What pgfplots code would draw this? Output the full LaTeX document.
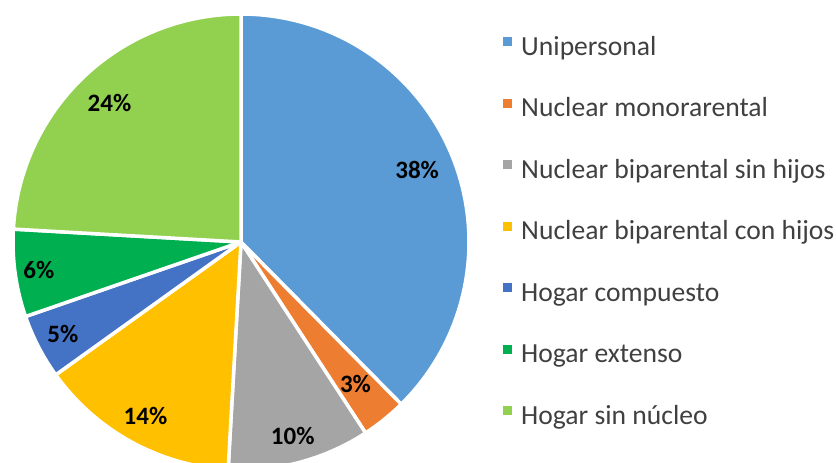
\documentclass[border=0pt]{standalone}
\usepackage{pgfplots}
\pgfplotsset{compat=1.18}
\usepackage{pgfplotstable}
\usepackage{fontspec}
\setmainfont{Carlito}
\definecolor{c0}{HTML}{5B9BD5}
\definecolor{c1}{HTML}{ED7D31}
\definecolor{c2}{HTML}{A5A5A5}
\definecolor{c3}{HTML}{FFC000}
\definecolor{c4}{HTML}{4472C4}
\definecolor{c5}{HTML}{00B050}
\definecolor{c6}{HTML}{92D050}
\definecolor{legtext}{HTML}{404040}
\pgfplotstableread[col sep=comma]{
name,value,lr
Unipersonal,37.6,0.835
Nuclear monorarental,3.2,0.80
Nuclear biparental sin hijos,10.1,0.88
Nuclear biparental con hijos,14.2,0.87
Hogar compuesto,4.6,0.88
Hogar extenso,6.2,0.895
Hogar sin núcleo,24.1,0.84
}\piedata
\begin{document}
\begin{tikzpicture}[x=1pt,y=1pt]
\useasboundingbox (0,0) rectangle (836,463);
\begin{axis}[
  at={(241pt,221pt)}, anchor=center,
  x=228pt, y=228pt,
  xmin=-1, xmax=1, ymin=-1, ymax=1,
  hide axis, clip=false,
  legend image code/.code={\fill[#1, draw=none] (0pt,2.5pt) rectangle (9pt,11.5pt);},
  legend style={
    at={(axis description cs:1.0746,0.952)}, anchor=north west,
    draw=none, fill=none, inner sep=0pt,
    font=\fontsize{27.6}{31}\selectfont, text=legtext,
    row sep=36.5pt, column sep=9pt,
    nodes={inner sep=0pt, text height=19pt, text depth=6pt},
  },
  legend cell align=left,
]
\xdef\piecum{0}
\pgfplotsinvokeforeach{0,...,6}{
  \pgfplotstablegetelem{#1}{value}\of\piedata
  \pgfmathsetmacro\pieval{\pgfplotsretval}
  \pgfplotstablegetelem{#1}{lr}\of\piedata
  \let\pielr\pgfplotsretval
  \pgfplotstablegetelem{#1}{name}\of\piedata
  \let\pienm\pgfplotsretval
  \pgfmathsetmacro\pieangA{90-3.6*(\piecum+\pieval)}
  \pgfmathsetmacro\pieangB{90-3.6*\piecum}
  \pgfmathsetmacro\pieangM{90-3.6*(\piecum+\pieval/2)}
  \pgfmathsetmacro\pielx{\pielr*cos(\pieangM)}
  \pgfmathsetmacro\piely{\pielr*sin(\pieangM)}
  \pgfmathtruncatemacro\piepct{round(\pieval)}
  \pgfmathsetmacro\pienewcum{\piecum+\pieval}
  \xdef\piecum{\pienewcum}
  \edef\pieslice{%
    \noexpand\addplot[fill=c#1, draw=white, line width=3.5pt, line join=round, domain=\pieangA:\pieangB, samples=90]
      ({cos(x)},{sin(x)}) -- (axis cs:0,0) -- cycle;
    \noexpand\addlegendentry{\pienm}
    \noexpand\node[font=\noexpand\bfseries\noexpand\fontsize{25}{29}\noexpand\selectfont, text=black] at (axis cs:\pielx,\piely) {\piepct\noexpand\%};
  }
  \pieslice
}
\end{axis}
\end{tikzpicture}
\end{document}
